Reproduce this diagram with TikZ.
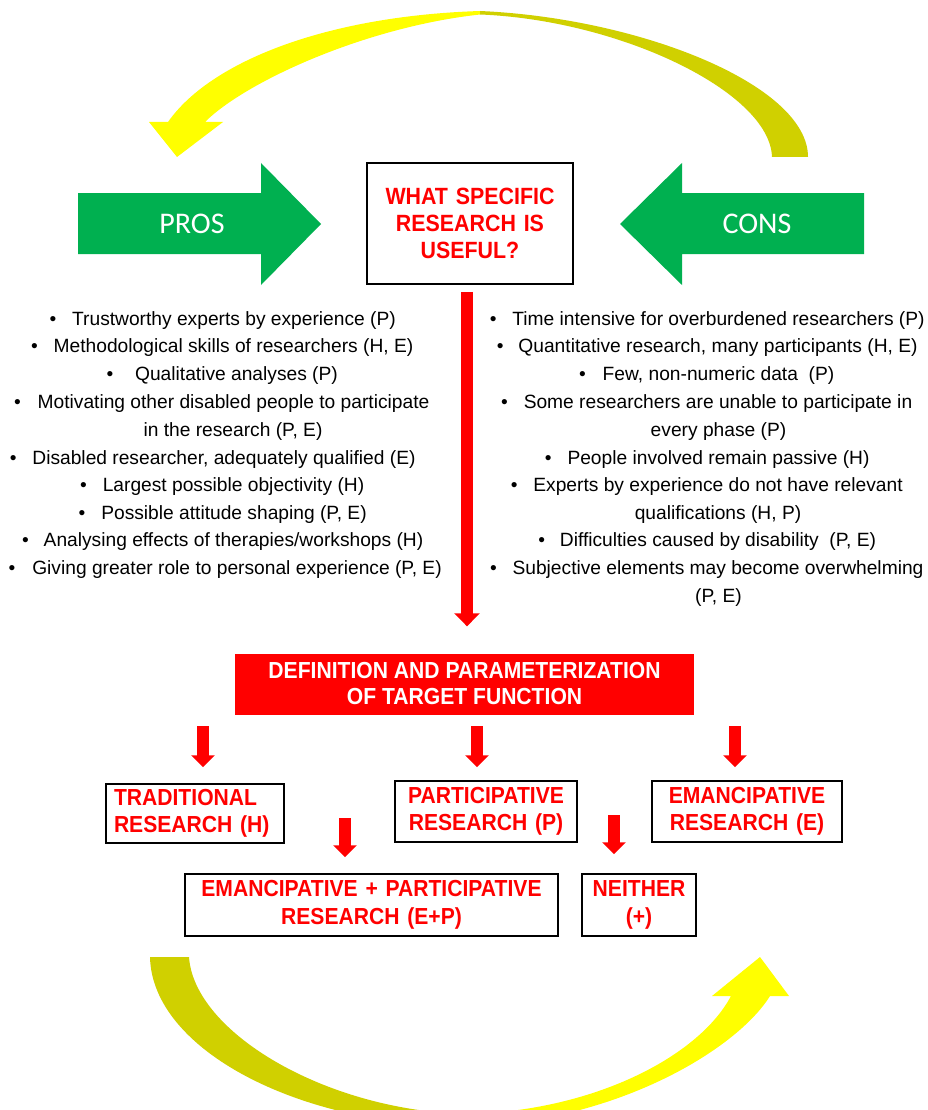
\documentclass[tikz,border=0pt]{standalone}
\usepackage{fontspec}
\setmainfont{Liberation Sans}
\newfontfamily\calib{Carlito}
\newfontfamily\bx[FakeStretch=0.91]{Liberation Sans}
\usetikzlibrary{arrows.meta}
\definecolor{yel}{RGB}{255,255,0}
\definecolor{oli}{RGB}{208,208,0}
\definecolor{grn}{RGB}{0,176,80}
\definecolor{rd}{RGB}{255,0,0}
\begin{document}
\begin{tikzpicture}[x=1pt,y=-1pt,
  lst/.style={inner sep=0pt, anchor=base, font=\fontsize{19.2}{23}\selectfont},
  bul/.style={inner sep=0pt, anchor=base, font=\fontsize{19.2}{23}\selectfont},
  rbox/.style={draw=black, line width=1.5pt, text=rd, inner sep=0pt, font=\bx\bfseries\fontsize{23.2}{27.5}\selectfont, align=center},
  bigarr/.style={draw=rd, line width=12pt, -{Triangle[width=25pt,length=13pt]}},
  smallarr/.style={draw=rd, line width=11.5pt, -{Triangle[width=23pt,length=12pt]}},
  sidetxt/.style={text=white, inner sep=0pt, font=\calib\fontsize{30}{30}\selectfont}
]
\useasboundingbox (0,0) rectangle (928,1110);
\fill[white] (0,0) rectangle (928,1110);

% top cycle arrow
\fill[yel] (480,11) .. controls (325,16) and (210,62) .. (168,122) -- (149,122) -- (177,157) -- (223,122) -- (205,122) .. controls (245,82) and (365,27) .. (480,14.5) -- cycle;
\fill[oli] (480,11) .. controls (640,18) and (808,85) .. (808,157) -- (772,157) .. controls (770,92) and (620,20) .. (480,14.5) -- cycle;

% bottom cycle arrow
\begin{scope}
\clip (0,0) rectangle (928,1110);
\fill[oli] (150,957) .. controls (152,1050) and (300,1126) .. (465,1126) -- (465,1114) .. controls (325,1110) and (194,1032) .. (189,957) -- cycle;
\fill[yel] (465,1126) .. controls (610,1124) and (735,1052) .. (770,996) -- (789,996) -- (760,957) -- (712,996) -- (731,996) .. controls (698,1058) and (590,1112) .. (465,1114) -- cycle;
\end{scope}

% pros / cons arrows
\fill[grn] (78,193) -- (261,193) -- (261,163) -- (321,224) -- (261,285) -- (261,254) -- (78,254) -- cycle;
\node[sidetxt] (pros) at (192,224) {PROS};
\fill[grn] (864,193) -- (682,193) -- (682,163) -- (620,224) -- (682,285) -- (682,254) -- (864,254) -- cycle;
\node[sidetxt] (cons) at (757,224) {CONS};

% question
\node[rbox, text width=206pt, minimum height=121pt, font=\bx\bfseries\fontsize{23.5}{27}\selectfont] (q) at (470,223.5) {WHAT SPECIFIC\\RESEARCH IS\\USEFUL?};

% pros list
\foreach \x/\y/\g/\t in {
  234/318/19/{Trustworthy experts by experience (P)},
  233.5/345/19/{Methodological skills of researchers (H, E)},
  236.5/373/25/{Qualitative analyses (P)},
  233.5/401/20/{Motivating other disabled people to participate},
  233/429/0/{in the research (P, E)},
  224/457/19/{Disabled researcher, adequately qualified (E)},
  233.5/484/19/{Largest possible objectivity (H)},
  234/512/19/{Possible attitude shaping (P, E)},
  233.5/539/18/{Analysing effects of therapies/workshops (H)},
  237/567/20/{Giving greater role to personal experience (P, E)}}{
  \node[lst] (L\y) at (\x,{\y+7}) {\t};
  \ifnum\g>0 \node[bul] (LB\y) at ([xshift=-\g pt]L\y.base west) {•};\fi
}

% cons list
\foreach \x/\y/\g/\t in {
  718.5/318/19/{Time intensive for overburdened researchers (P)},
  718/345/18/{Quantitative research, many participants (H, E)},
  718.5/373/20/{Few, non-numeric data~ (P)},
  718/401/19/{Some researchers are unable to participate in},
  718.5/429/0/{every phase (P)},
  718.5/457/19/{People involved remain passive (H)},
  718/484/19/{Experts by experience do not have relevant},
  718/512/0/{qualifications (H, P)},
  718/539/18/{Difficulties caused by disability~ (P, E)},
  718/567/19/{Subjective elements may become overwhelming},
  718.5/595/0/{(P, E)}}{
  \node[lst] (R\y) at (\x,{\y+7}) {\t};
  \ifnum\g>0 \node[bul] (RB\y) at ([xshift=-\g pt]R\y.base west) {•};\fi
}

% definition box
\node[fill=rd, text=white, inner sep=0pt, align=center, minimum width=459pt, minimum height=61pt, font=\bx\bfseries\fontsize{23.2}{26}\selectfont] (def) at (464.5,684) {DEFINITION AND PARAMETERIZATION\\OF TARGET FUNCTION};

\coordinate (qa) at ([xshift=-3pt]q.south);
\draw[bigarr, shorten <=7pt, shorten >=27pt] (qa) -- (qa |- def.north);

% result boxes
\node[rbox, align=left, text width=162pt, inner xsep=8pt, minimum height=59pt] (trad) at (195,813.5) {TRADITIONAL\\RESEARCH (H)};
\node[rbox, text width=182pt, minimum height=61pt] (part) at (486,811.5) {PARTICIPATIVE\\RESEARCH (P)};
\node[rbox, text width=190pt, minimum height=61pt] (eman) at (747,811.5) {EMANCIPATIVE\\RESEARCH (E)};
\node[rbox, text width=373pt, minimum height=62pt] (ep) at (371.5,905) {EMANCIPATIVE + PARTICIPATIVE\\RESEARCH (E+P)};
\node[rbox, text width=114pt, minimum height=62pt] (nei) at (639,905) {NEITHER\\(+)};

% small arrows
\coordinate (s1) at (203,726);
\coordinate (s2) at (477,726);
\coordinate (s3) at (735,726);
\coordinate (s4) at (345,818);
\coordinate (s5) at (614,815);
\draw[smallarr, shorten >=16pt] (s1) -- (s1 |- trad.north);
\draw[smallarr, shorten >=13pt] (s2) -- (s2 |- part.north);
\draw[smallarr, shorten >=13pt] (s3) -- (s3 |- eman.north);
\draw[smallarr, shorten >=16pt] (s4) -- (s4 |- ep.north);
\draw[smallarr, shorten >=19pt] (s5) -- (s5 |- nei.north);
\end{tikzpicture}
\end{document}
